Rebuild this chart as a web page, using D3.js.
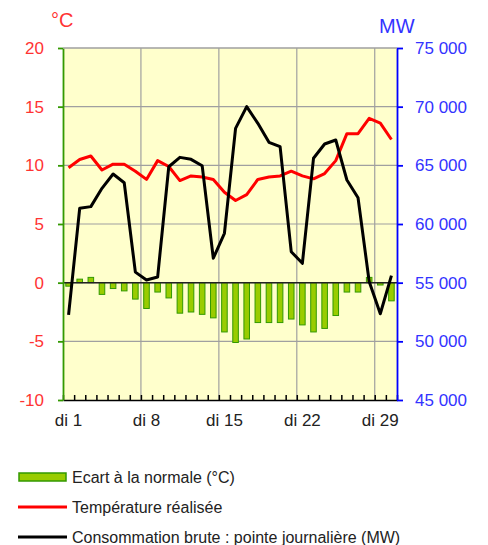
<!DOCTYPE html>
<html>
<head>
<meta charset="utf-8">
<script src="https://cdn.jsdelivr.net/npm/d3@7"></script>
<style>
  body { margin: 0; background: #fff; }
  text { font-family: "Liberation Sans", Arial, sans-serif; }
</style>
</head>
<body>
<script>
var days = d3.range(1, 31).map(function(d){ return "di " + d; });
var tickDays = ["di 1", "di 8", "di 15", "di 22", "di 29"];

// écart à la normale (°C)
var ecart = [-0.3, 0.3, 0.45, -1.0, -0.5, -0.7, -1.4, -2.2, -0.8, -1.3,
             -2.6, -2.5, -2.7, -3.0, -4.2, -5.1, -4.8, -3.4, -3.4, -3.4,
             -3.1, -3.6, -4.2, -3.9, -2.8, -0.8, -0.8, 0.45, -0.2, -1.55];
// température réalisée (°C)
var temp = [9.8, 10.5, 10.8, 9.6, 10.1, 10.1, 9.5, 8.8, 10.4, 9.9,
            8.7, 9.1, 9.0, 8.8, 7.7, 7.0, 7.5, 8.8, 9.0, 9.1,
            9.5, 9.1, 8.85, 9.3, 10.4, 12.7, 12.7, 14.0, 13.6, 12.2];
// consommation brute : pointe journalière (MW)
var conso = [52250, 61340, 61480, 63040, 64260, 63520, 55900, 55230, 55480, 64880,
             65680, 65510, 64970, 57080, 59210, 68150, 70000, 68580, 66960, 66590,
             57640, 56650, 65600, 66820, 67160, 63750, 62240, 55100, 52350, 55600];

var leftTicks = [-10, -5, 0, 5, 10, 15, 20];
var rightTicks = [45000, 50000, 55000, 60000, 65000, 70000, 75000];

var W = 488, H = 545;
var L = 63, R = 397, T = 48, B = 400;

var svg = d3.select("body").append("svg")
  .attr("width", W).attr("height", H);

var x = d3.scaleBand().domain(days).range([L, R])
  .paddingInner(0.5).paddingOuter(0.25);
var xb = d3.scaleLinear().domain([0, days.length]).range([L, R]);
var yL = d3.scaleLinear().domain([-10, 20]).range([B, T]);
var yR = d3.scaleLinear().domain([45000, 75000]).range([B, T]);
var cx = function(i){ return x(days[i]) + x.bandwidth() / 2; };

var frLocale = d3.formatLocale({decimal: ",", thousands: " ", grouping: [3], currency: ["", " €"], minus: "-"});
var fmtMW = frLocale.format(",d");
var fmtC = frLocale.format("d");

// plot background
svg.append("rect").attr("x", L).attr("y", T)
  .attr("width", R - L).attr("height", B - T).attr("fill", "#FFFFCC");

// horizontal grid
svg.append("g").selectAll("line").data(leftTicks.filter(function(v){ return v > -10; }))
  .enter().append("line")
  .attr("x1", L).attr("x2", R)
  .attr("y1", function(d){ return yL(d); }).attr("y2", function(d){ return yL(d); })
  .attr("stroke", "#a0a0a0").attr("stroke-width", 1.2);

// vertical grid (week boundaries)
svg.append("g").selectAll("line").data([7, 14, 21, 28])
  .enter().append("line")
  .attr("x1", function(d){ return xb(d); }).attr("x2", function(d){ return xb(d); })
  .attr("y1", T).attr("y2", B)
  .attr("stroke", "#a0a0a0").attr("stroke-width", 1.2);

// bars
svg.append("g").selectAll("rect").data(ecart)
  .enter().append("rect")
  .attr("x", function(d, i){ return x(days[i]); })
  .attr("width", x.bandwidth())
  .attr("y", function(d){ return yL(Math.max(0, d)); })
  .attr("height", function(d){ return Math.abs(yL(d) - yL(0)); })
  .attr("fill", "#99CC00").attr("stroke", "#339900").attr("stroke-width", 1);

// zero line
svg.append("line").attr("x1", L).attr("x2", R)
  .attr("y1", yL(0)).attr("y2", yL(0))
  .attr("stroke", "#222").attr("stroke-width", 1.5);

// temperature line
svg.append("path").datum(temp)
  .attr("fill", "none").attr("stroke", "#FF0000").attr("stroke-width", 3)
  .attr("stroke-linejoin", "round")
  .attr("d", d3.line().x(function(d, i){ return cx(i); }).y(function(d){ return yL(d); }));

// consumption line
svg.append("path").datum(conso)
  .attr("fill", "none").attr("stroke", "#000").attr("stroke-width", 3)
  .attr("stroke-linejoin", "round")
  .attr("d", d3.line().x(function(d, i){ return cx(i); }).y(function(d){ return yR(d); }));

// bottom axis: ticks at each day boundary, inside
var gB = svg.append("g").attr("transform", "translate(0," + B + ")")
  .call(d3.axisBottom(xb).tickValues(d3.range(0, days.length + 1)).tickSize(-5).tickSizeOuter(0).tickFormat(""));
gB.selectAll("path, line").attr("stroke", "#000").attr("stroke-width", 1.5);

// bottom labels
var gBL = svg.append("g").attr("transform", "translate(0," + B + ")")
  .call(d3.axisBottom(x).tickValues(tickDays).tickSize(0).tickPadding(14));
gBL.select(".domain").remove();
gBL.selectAll("text").attr("font-size", 17).attr("fill", "#222")
  .attr("font-family", "Liberation Sans, Arial, sans-serif");

// left axis
var gL = svg.append("g").attr("transform", "translate(" + L + ",0)")
  .call(d3.axisLeft(yL).tickValues(leftTicks).tickSize(5).tickSizeOuter(0).tickPadding(14).tickFormat(fmtC));
gL.selectAll("path, line").attr("stroke", "#339900").attr("stroke-width", 1.8);
gL.selectAll("text").attr("font-size", 17).attr("fill", "#FF3333")
  .attr("font-family", "Liberation Sans, Arial, sans-serif");

// right axis
var gR = svg.append("g").attr("transform", "translate(" + R + ",0)")
  .call(d3.axisRight(yR).tickValues(rightTicks).tickSize(6).tickSizeOuter(0).tickPadding(12).tickFormat(fmtMW));
gR.selectAll("path, line").attr("stroke", "#0000FF").attr("stroke-width", 1.8);
gR.selectAll("text").attr("font-size", 17).attr("fill", "#3333FF")
  .attr("font-family", "Liberation Sans, Arial, sans-serif");

// top border
svg.append("line").attr("x1", L).attr("x2", R).attr("y1", T).attr("y2", T)
  .attr("stroke", "#a0a0a0").attr("stroke-width", 1.2);

// axis units
svg.append("text").attr("x", 51).attr("y", 27).attr("font-size", 20)
  .attr("fill", "#FF3333").text("°C");
svg.append("text").attr("x", 379).attr("y", 33).attr("font-size", 20)
  .attr("fill", "#3333FF").text("MW");

// legend
var legend = [
  {label: "Ecart à la normale (°C)", type: "bar"},
  {label: "Température réalisée", type: "line", color: "#FF0000"},
  {label: "Consommation brute : pointe journalière (MW)", type: "line", color: "#000"}
];
var lg = svg.append("g").selectAll("g").data(legend).enter().append("g")
  .attr("transform", function(d, i){ return "translate(18," + (477 + i * 30) + ")"; });
lg.filter(function(d){ return d.type === "bar"; }).append("rect")
  .attr("x", 1).attr("y", -4).attr("width", 47).attr("height", 8)
  .attr("fill", "#99CC00").attr("stroke", "#339900").attr("stroke-width", 1.5);
lg.filter(function(d){ return d.type === "line"; }).append("line")
  .attr("x1", 0).attr("x2", 49).attr("y1", 0).attr("y2", 0)
  .attr("stroke", function(d){ return d.color; }).attr("stroke-width", 3);
lg.append("text").attr("x", 54).attr("y", 0).attr("dy", "0.35em")
  .attr("font-size", 16).attr("fill", "#222").text(function(d){ return d.label; });
</script>
</body>
</html>
